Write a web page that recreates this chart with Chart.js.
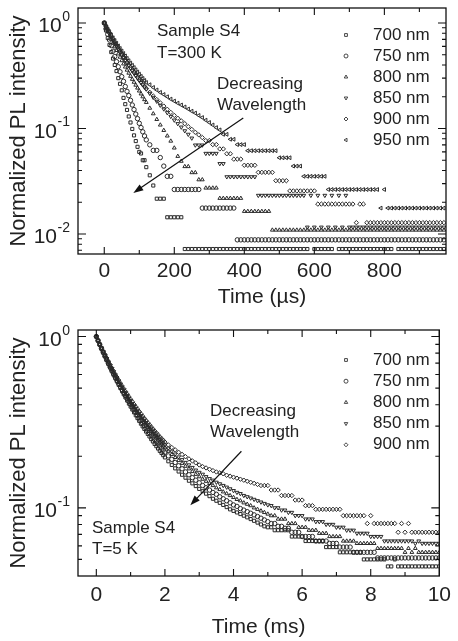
<!DOCTYPE html>
<html lang="en">
<head>
<meta charset="UTF-8">
<title>PL decay - Sample S4</title>
<style>
  body { margin: 0; background: #ffffff; }
  canvas { display: block; }
</style>
<script src="https://cdn.jsdelivr.net/npm/chart.js"></script>
</head>
<body>
<canvas id="roomTempChart" width="458" height="315"></canvas>
<canvas id="lowTempChart" width="458" height="326"></canvas>

<script>
// ---- T = 300 K, time in microseconds ----
const timeUs = [0,5,10,15,20,25,30,35,40,45,50,55,60,65,70,75,80,85,90,95,100,105,110,115,120,
  130,140,150,160,170,180,190,200,210,220,
  230,240,250,260,270,280,290,300,310,320,
  330,340,350,360,370,380,390,400,410,420,
  430,440,450,460,470,480,490,500,510,520,
  530,540,550,560,570,580,590,600,610,620,
  630,640,650,660,670,680,690,700,710,720,
  730,740,750,760,770,780,790,800,810,820,
  830,840,850,860,870,880,890,900,910,920,
  930,940,950,960,970];

const rt700 = [1,.85,.72,.62,.53,.46,.4,.35,.3,.265,.23,.195,.17,.15,.13,.114,.099,.086,.076,.067,.06,.058,.05,.05,.043,
  .036,.0288,.0216,.0216,.0216,.0144,.0144,.0144,.0144,.0144,
  .0072,.0072,.0072,.0072,.0072,.0072,.0072,.0072,.0072,.0072,
  .0072,.0072,.0072,.0072,.0072,.0072,.0072,.0072,.0072,.0072,
  .0072,.0072,.0072,.0072,.0072,.0072,.0072,.0072,.0072,.0072,
  .0072,.0072,.0072,.0072,.0072,.0072,null,.0072,.0072,.0072,
  .0072,.0072,.0072,null,.0072,.0072,.0072,.0072,.0072,.0072,
  .0072,.0072,.0072,.0072,.0072,.0072,.0072,.0072,.0072,.0072,
  null,.0072,.0072,.0072,.0072,.0072,.0072,.0072,.0072,.0072,
  .0072,.0072,.0072,.0072,.0072];

const rt750 = [1,.88,.78,.69,.61,.54,.48,.43,.385,.345,.31,.28,.25,.225,.205,.185,.167,.151,.137,.124,.112,.102,.093,.085,.078,
  .07,.062,.062,.053,.044,.0352,.0352,.0264,.0264,.0264,
  .0264,.0264,.0264,.0264,.0264,.0176,.0176,.0176,.0176,.0176,
  .0176,.0176,.0176,.0176,.0176,.0088,.0088,.0088,.0088,.0088,
  .0088,.0088,.0088,.0088,.0088,.0088,.0088,.0088,.0088,.0088,
  .0088,.0088,.0088,.0088,.0088,.0088,.0088,.0088,.0088,.0088,
  .0088,.0088,.0088,.0088,.0088,.0088,.0088,.0088,.0088,.0088,
  .0088,.0088,.0088,.0088,.0088,.0088,.0088,.0088,.0088,.0088,
  .0088,.0088,.0088,.0088,.0088,.0088,.0088,.0088,.0088,.0088,
  .0088,.0088,.0088,.0088,.0088];

const rt800 = [1,.91,.83,.76,.7,.645,.595,.55,.51,.475,.44,.41,.383,.358,.335,.313,.293,.275,.258,.242,.227,.213,.2,.188,.177,
  .156,.138,.122,.108,.096,.085,.076,.0654,.0545,.049,
  .0436,.0436,.0382,.0382,.0327,.0327,.0273,.0273,.0273,.0273,
  .0218,.0218,.0218,.0218,.0218,.0218,.0218,.0164,.0164,.0164,
  .0164,.0164,.0164,.0164,.0164,.0109,.0109,.0109,.0109,.0109,
  .0109,.0109,.0109,.0109,.0109,.0109,.0109,.0109,.0109,.0109,
  .0109,.0109,.0109,.0109,.0109,.0109,.0109,.0109,.0109,.0109,
  .0109,.0109,.0109,.0109,.0109,.0109,.0109,.0109,.0109,.0109,
  .0109,.0109,.0109,.0109,.0109,.0109,.0109,.0109,.0109,.0109,
  .0109,.0109,.0109,.0109,.0109];

const rt850 = [1,.92,.85,.79,.735,.685,.64,.6,.562,.528,.497,.468,.441,.416,.393,.372,.352,.334,.317,.301,.286,.272,.259,.247,.236,
  .215,.197,.181,.166,.153,.141,.13,.12,.111,.103,
  .095,.088,.081,.0696,.0696,.0696,.058,.058,.058,.058,
  .0464,.0464,.0348,.0348,.0348,.0348,.0348,.0348,.0348,.0348,
  .0348,.0232,.0232,.0232,.0232,.0232,.0232,.0232,.0232,.0232,
  .0232,.0232,.0232,.0232,.0232,.0116,.0232,.0116,.0232,.0116,
  .0232,.0116,.0232,.0116,.0232,.0116,.0232,.0116,.0116,.0116,
  .0116,.0116,.0116,.0116,.0116,.0116,.0116,.0116,.0116,.0116,
  .0116,.0116,.0116,.0116,.0116,.0116,.0116,.0116,.0116,.0116,
  .0116,.0116,.0116,.0116,.0116];

const rt900 = [1,.93,.865,.805,.75,.7,.655,.613,.575,.54,.508,.478,.45,.425,.401,.379,.359,.34,.322,.305,.29,.276,.262,.25,.238,
  .22,.203,.188,.175,.163,.152,.142,.133,.125,.118,
  .111,.104,.098,.092,.087,.082,.0768,.0768,.0704,.0704,
  .064,.064,.0576,.0576,.0512,.0512,.0512,.0448,.0448,.0448,
  .0448,.0384,.0384,.0384,.0384,.0384,.032,.032,.032,.032,
  .0256,.0256,.0256,.0256,.0256,.0256,.0256,.0256,.0192,.0192,
  .0192,.0192,.0192,.0192,.0192,.0192,.0192,.0192,.0192,.0128,
  .0192,.0192,.0128,.0128,.0128,.0128,.0128,.0128,.0128,.0128,
  .0128,.0128,.0128,.0128,.0128,.0128,.0128,.0128,.0128,.0128,
  .0128,.0128,.0128,.0128,.0128];

const rt950 = [1,.935,.875,.82,.77,.724,.682,.643,.607,.574,.543,.514,.487,.462,.439,.417,.397,.378,.36,.343,.327,.312,.298,.285,.273,
  .26,.245,.232,.22,.21,.2,.19,.182,.174,.167,
  .16,.153,.146,.14,.133,.127,.12,.114,.108,.102,
  .097,.088,.088,.079,.079,.0704,.0704,.0704,.0616,.0616,
  .0616,.0616,.0616,.0616,.0616,.0616,.0616,.0528,.0528,.0528,
  .0528,.044,.044,.044,.0352,.0352,.0352,.0352,.0352,.0352,
  .0352,.0264,.0264,.0264,.0264,.0264,.0264,.0264,.0264,.0264,
  .0264,.0264,.0264,.0264,.0264,.0264,.0176,.0264,.0176,.0176,
  .0176,.0176,.0176,.0176,.0176,.0176,.0176,.0176,.0176,.0176,
  .0176,.0176,.0176,.0176,.0176];

const labelsRT = ['700 nm', '750 nm', '800 nm', '850 nm', '900 nm', '950 nm'];
const xTicksUs = [0, 100, 200, 300, 400, 500, 600, 700, 800, 900];
const yTicksRT = [.007, .008, .009, .01, .02, .03, .04, .05, .06, .07, .08, .09, .1, .2, .3, .4, .5, .6, .7, .8, .9, 1];

// ---- T = 5 K, time in milliseconds ----
const timeMs = [0,.05,.1,.15,.2,.25,.3,.35,.4,.45,.5,.55,.6,.65,.7,.75,.8,.85,.9,.95,
  1,1.05,1.1,1.15,1.2,1.25,1.3,1.35,1.4,1.45,1.5,1.55,1.6,1.65,1.7,1.75,1.8,1.85,1.9,1.95,2,
  2.1,2.2,2.3,2.4,2.5,2.6,2.7,2.8,2.9,3,
  3.1,3.2,3.3,3.4,3.5,3.6,3.7,3.8,3.9,4,
  4.1,4.2,4.3,4.4,4.5,4.6,4.7,4.8,4.9,5,
  5.1,5.2,5.3,5.4,5.5,5.6,5.7,5.8,5.9,6,
  6.1,6.2,6.3,6.4,6.5,6.6,6.7,6.8,6.9,7,
  7.1,7.2,7.3,7.4,7.5,7.6,7.7,7.8,7.9,8,
  8.1,8.2,8.3,8.4,8.5,8.6,8.7,8.8,8.9,9,
  9.1,9.2,9.3,9.4,9.5,9.6,9.7,9.8,9.9,10];

const lt700 = [1,.945,.895,.848,.805,.765,.727,.692,.659,.628,.599,.572,.547,.523,.501,.48,.46,.441,.423,.406,
  .39,.375,.361,.347,.334,.322,.31,.299,.289,.279,.27,.261,.252,.244,.236,.229,.222,.215,.209,.203,.197,
  .187,.178,.17,.163,.156,.15,.144,.139,.134,.129,
  .125,.121,.117,.113,.11,.107,.104,.101,.098,.096,
  .094,.092,.09,.088,.086,.084,.082,.08,.078,.077,
  .077,.074,.074,.074,.074,.074,.068,.068,.068,.068,
  .064,.064,.064,.064,.064,.064,.059,.059,.059,.059,
  .055,.055,.055,.055,.055,.055,.055,.05,.05,.05,
  .05,.05,.05,.05,.0455,.0455,.05,.0455,.0455,.0455,
  .0455,.0455,.0455,.0455,.0455,.0455,.0455,.0455,.0455,.0455];

const lt750 = [1,.947,.898,.852,.81,.77,.733,.698,.666,.636,.607,.581,.556,.533,.511,.49,.47,.452,.434,.418,
  .402,.387,.373,.36,.347,.335,.323,.312,.302,.292,.283,.274,.266,.258,.25,.243,.236,.229,.223,.217,.211,
  .201,.192,.184,.176,.169,.162,.156,.15,.145,.14,
  .135,.131,.127,.123,.12,.116,.113,.11,.107,.104,
  .102,.099,.097,.095,.093,.091,.089,.087,.085,.083,
  .081,.081,.078,.078,.076,.076,.072,.072,.072,.068,
  .068,.068,.068,.064,.064,.064,.064,.062,.062,.062,
  .059,.059,.059,.059,.055,.055,.055,.055,.055,.055,
  .055,.051,.051,.051,.051,.051,.051,.051,.051,.051,
  .051,.051,.051,.051,.051,.051,.051,.051,.051,.051];

const lt800 = [1,.949,.9,.855,.813,.774,.738,.704,.672,.642,.614,.588,.563,.54,.519,.498,.479,.461,.444,.428,
  .413,.398,.385,.372,.359,.347,.336,.325,.315,.305,.296,.287,.279,.271,.263,.256,.249,.242,.236,.23,.224,
  .214,.205,.197,.189,.182,.175,.169,.163,.157,.152,
  .147,.143,.139,.135,.131,.128,.124,.121,.118,.115,
  .112,.11,.107,.105,.103,.1,.098,.096,.094,.092,
  .09,.09,.086,.086,.086,.081,.081,.081,.077,.077,
  .077,.074,.074,.074,.071,.071,.071,.068,.068,.068,
  .068,.064,.064,.064,.064,.062,.062,.062,.062,.062,
  .062,.058,.058,.058,.058,.058,.058,.058,.058,.055,
  .058,.055,.058,.055,.055,.055,.055,.055,.055,.055];

const lt850 = [1,.95,.903,.859,.818,.78,.744,.711,.679,.65,.622,.596,.572,.549,.528,.507,.488,.47,.453,.437,
  .422,.407,.394,.381,.368,.356,.345,.334,.324,.314,.305,.296,.288,.28,.272,.265,.258,.251,.245,.239,.233,
  .223,.214,.206,.198,.191,.184,.178,.172,.166,.161,
  .157,.152,.148,.145,.141,.138,.135,.132,.129,.126,
  .123,.121,.118,.116,.114,.112,.11,.108,.106,.104,
  .103,.1,.1,.097,.097,.094,.094,.09,.09,.09,
  .086,.086,.086,.083,.083,.083,.08,.08,.08,.077,
  .077,.077,.074,.074,.074,.071,.071,.071,.071,.068,
  .068,.068,.068,.064,.064,.064,.064,.064,.064,.064,
  .064,.064,.062,.064,.062,.062,.062,.062,.062,.062];

const lt900 = [1,.95,.905,.862,.822,.785,.75,.717,.686,.657,.63,.604,.58,.557,.535,.515,.496,.478,.461,.445,
  .43,.416,.402,.389,.377,.365,.354,.343,.333,.323,.314,.305,.297,.289,.281,.274,.267,.26,.254,.248,.242,
  .233,.225,.218,.211,.205,.199,.193,.188,.183,.178,
  .174,.171,.168,.165,.162,.16,.158,.155,.153,.151,
  .149,.147,.145,.143,.141,.139,.137,.135,.135,.135,
  .127,.127,.127,.118,.118,.118,.118,.111,.111,.111,
  .103,.103,.103,.098,.098,.098,.098,.098,.098,.098,
  .098,.09,.09,.09,.09,.09,.09,.09,.081,.09,
  .081,.081,.081,.081,.081,.081,.081,.072,.081,.072,
  .081,.072,.072,.072,.072,.072,.072,.072,.072,.072];

const labelsLT = ['700 nm', '750 nm', '800 nm', '850 nm', '900 nm'];
const xTicksMs = [0, 1, 2, 3, 4, 5, 6, 7, 8, 9, 10];
const yTicksLT = [.05, .06, .07, .08, .09, .1, .2, .3, .4, .5, .6, .7, .8, .9, 1];

// ---- drawing ----
const FONT = '"Liberation Sans", Arial, Helvetica, sans-serif';
Chart.defaults.font.family = FONT;
Chart.defaults.color = '#222';

// square, circle, up triangle, down triangle, diamond, left triangle
const markStyles = [
  { style: 'rect', rot: 0 },
  { style: 'circle', rot: 0 },
  { style: 'triangle', rot: 0 },
  { style: 'triangle', rot: 180 },
  { style: 'rectRot', rot: 0 },
  { style: 'triangle', rot: -90 }
];

function isDecade(v) {
  const l = Math.log10(v);
  return Math.abs(l - Math.round(l)) < 1e-6;
}

function makeDeco(o) {
  return {
    id: 'deco',
    afterDraw(chart) {
      const { ctx, chartArea: a } = chart;
      const x = chart.scales.x, y = chart.scales.y;
      ctx.save();

      // frame
      ctx.strokeStyle = '#111';
      ctx.lineWidth = 1.3;
      ctx.strokeRect(a.left, a.top, a.right - a.left, a.bottom - a.top);

      // inward ticks on all four sides
      ctx.lineWidth = 1.1;
      ctx.beginPath();
      o.xTicks.forEach(v => {
        const px = x.getPixelForValue(v);
        const len = o.isMajorX(v) ? 7 : 4;
        ctx.moveTo(px, a.bottom); ctx.lineTo(px, a.bottom - len);
        ctx.moveTo(px, a.top); ctx.lineTo(px, a.top + len);
      });
      o.yTicks.forEach(v => {
        const py = y.getPixelForValue(v);
        const len = isDecade(v) ? 8 : 4;
        ctx.moveTo(a.left, py); ctx.lineTo(a.left + len, py);
        ctx.moveTo(a.right, py); ctx.lineTo(a.right - len, py);
      });
      ctx.stroke();

      // decade labels 10^n
      ctx.fillStyle = '#222';
      ctx.textAlign = 'right';
      ctx.textBaseline = 'alphabetic';
      o.yTicks.filter(isDecade).forEach(v => {
        const py = y.getPixelForValue(v);
        const exp = String(Math.round(Math.log10(v)));
        ctx.font = '14px ' + FONT;
        ctx.fillText(exp, a.left - 8, py - 2);
        const w = ctx.measureText(exp).width;
        ctx.font = '21px ' + FONT;
        ctx.fillText('10', a.left - 8 - w - 0.5, py + 9.5);
      });

      // legend inside the plot
      ctx.font = '17px ' + FONT;
      ctx.textAlign = 'left';
      ctx.textBaseline = 'middle';
      chart.data.datasets.forEach((ds, k) => {
        const ly = o.legendTop + k * o.legendStep;
        ctx.strokeStyle = '#333';
        ctx.fillStyle = 'rgba(0,0,0,0)';
        ctx.lineWidth = 0.9;
        Chart.helpers.drawPoint(ctx, { pointStyle: ds.pointStyle, rotation: ds.pointRotation, radius: 2, borderWidth: 0.9 }, o.legendX, ly);
        ctx.fillStyle = '#222';
        ctx.fillText(ds.label, o.legendTextX, ly);
      });

      // notes
      o.notes.forEach(n => ctx.fillText(n.text, n.x, n.y));

      // arrow, ends given in data units
      const x0 = x.getPixelForValue(o.arrow.from[0]), y0 = y.getPixelForValue(o.arrow.from[1]);
      const x1 = x.getPixelForValue(o.arrow.to[0]), y1 = y.getPixelForValue(o.arrow.to[1]);
      const ang = Math.atan2(y1 - y0, x1 - x0);
      const c = Math.cos(ang), s = Math.sin(ang);
      ctx.strokeStyle = '#111';
      ctx.fillStyle = '#111';
      ctx.lineWidth = 1.2;
      ctx.beginPath();
      ctx.moveTo(x0, y0);
      ctx.lineTo(x1 - 6 * c, y1 - 6 * s);
      ctx.stroke();
      ctx.beginPath();
      ctx.moveTo(x1, y1);
      ctx.lineTo(x1 - 10 * c + 3.5 * s, y1 - 10 * s - 3.5 * c);
      ctx.lineTo(x1 - 10 * c - 3.5 * s, y1 - 10 * s + 3.5 * c);
      ctx.closePath();
      ctx.fill();

      ctx.restore();
    }
  };
}

function buildChart(canvasId, o) {
  const datasets = o.series.map((vals, k) => ({
    label: o.labels[k],
    data: o.times.map((t, i) => ({ x: t, y: vals[i] })),
    pointStyle: markStyles[k].style,
    pointRotation: markStyles[k].rot,
    pointRadius: 2.2,
    pointBorderWidth: 1,
    pointBorderColor: '#2a2a2a',
    pointBackgroundColor: 'rgba(0,0,0,0)',
    showLine: false
  }));

  return new Chart(document.getElementById(canvasId), {
    type: 'scatter',
    data: { datasets: datasets },
    options: {
      responsive: false,
      animation: false,
      events: [],
      layout: { padding: o.padding },
      plugins: { legend: { display: false }, tooltip: { enabled: false } },
      scales: {
        x: {
          type: 'linear',
          min: o.xMin,
          max: o.xMax,
          afterBuildTicks: ax => { ax.ticks = o.xTicks.map(v => ({ value: v })); },
          afterFit: ax => { ax.height = o.xAxisHeight; },
          grid: { display: false, drawTicks: false },
          border: { display: false },
          ticks: {
            autoSkip: false,
            maxRotation: 0,
            padding: o.xTickPad,
            color: '#222',
            font: { size: 21 },
            callback: v => o.isMajorX(v) ? String(v) : ''
          },
          title: { display: true, text: o.xTitle, color: '#222', font: { size: 21 }, padding: { top: 0, bottom: o.xTitlePad } }
        },
        y: {
          type: 'logarithmic',
          min: o.yMin,
          max: o.yMax,
          afterBuildTicks: ax => { ax.ticks = o.yTicks.map(v => ({ value: v })); },
          afterFit: ax => { ax.width = 78; },
          grid: { display: false, drawTicks: false },
          border: { display: false },
          ticks: { display: false },
          title: { display: true, text: 'Normalized PL intensity', color: '#222', font: { size: 22 }, padding: { top: 6, bottom: 0 } }
        }
      }
    },
    plugins: [makeDeco(o)]
  });
}

buildChart('roomTempChart', {
  times: timeUs,
  series: [rt700, rt750, rt800, rt850, rt900, rt950],
  labels: labelsRT,
  xMin: -75, xMax: 976, xTicks: xTicksUs, isMajorX: v => v % 200 === 0,
  yMin: 0.00646, yMax: 1.387, yTicks: yTicksRT,
  xTitle: 'Time (\u00b5s)',
  padding: { top: 8, right: 12, left: 0, bottom: 0 },
  xAxisHeight: 61, xTickPad: 5, xTitlePad: 5,
  legendX: 346, legendTextX: 373, legendTop: 35, legendStep: 21,
  notes: [
    { text: 'Sample S4', x: 157, y: 31 },
    { text: 'T=300 K', x: 157, y: 53 },
    { text: 'Decreasing', x: 217, y: 84 },
    { text: 'Wavelength', x: 217, y: 105 }
  ],
  arrow: { from: [397, 0.126], to: [83, 0.0245] }
});

buildChart('lowTempChart', {
  times: timeMs,
  series: [lt700, lt750, lt800, lt850, lt900],
  labels: labelsLT,
  xMin: -0.534, xMax: 10, xTicks: xTicksMs, isMajorX: v => v % 2 === 0,
  yMin: 0.04, yMax: 1.092, yTicks: yTicksLT,
  xTitle: 'Time (ms)',
  padding: { top: 15, right: 11, left: 0, bottom: 0 },
  xAxisHeight: 65, xTickPad: 7, xTitlePad: 1,
  legendX: 346, legendTextX: 373, legendTop: 45, legendStep: 21.2,
  notes: [
    { text: 'Decreasing', x: 210, y: 96 },
    { text: 'Wavelength', x: 210, y: 117 },
    { text: 'Sample S4', x: 92, y: 213 },
    { text: 'T=5 K', x: 92, y: 234 }
  ],
  arrow: { from: [4.23, 0.214], to: [2.74, 0.1035] }
});
</script>
</body>
</html>
